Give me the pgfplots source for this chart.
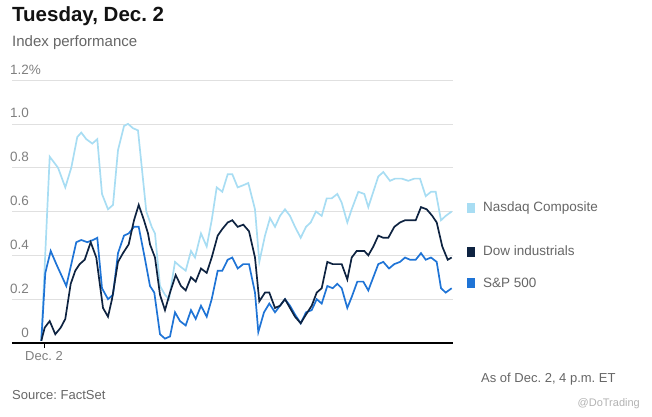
\documentclass[border=0pt]{standalone}
\usepackage{pgfplots}
\pgfplotsset{compat=1.18}
\usepackage{fontspec}
\setmainfont{Liberation Sans}
\frenchspacing
\definecolor{nasdaq}{HTML}{A8DDF3}
\definecolor{dow}{HTML}{0E2341}
\definecolor{spx}{HTML}{1F74D6}
\definecolor{txtgray}{HTML}{666666}
\definecolor{tickgray}{HTML}{808080}
\begin{document}
\begin{tikzpicture}[x=1pt,y=1pt]
\useasboundingbox (0,0) rectangle (652,416);
\begin{axis}[
    at={(12pt,73pt)}, anchor=origin,
    scale only axis, width=441pt, height=263pt,
    xmin=12, xmax=453, ymin=0, ymax=1.2,
    clip=false,
    axis lines*=left,
    y axis line style={draw=none},
    x axis line style={black, line width=1.2pt, -},
    ymajorgrids, grid style={black!12, line width=0.6pt},
    ytick={0,0.2,0.4,0.6,0.8,1.0,1.2},
    yticklabels={0,0.2,0.4,0.6,0.8,1.0,1.2\rlap{\%}},
    ytick style={draw=none},
    yticklabel style={anchor=base east, xshift=22pt, yshift=6pt, inner sep=0pt,
        text=tickgray, font=\fontsize{13.5}{16}\selectfont},
    xtick={44}, xticklabels={Dec. 2},
    tick align=outside, major tick length=5pt,
    xtick style={black, line width=0.8pt},
    xticklabel style={text=tickgray, font=\fontsize{13}{15}\selectfont},
]
% Nasdaq Composite
\addplot[nasdaq, line width=1.7pt] coordinates {
(41.3,0.01)(49.7,0.85)(58,0.80)(65.3,0.71)(71.3,0.80)(77.3,0.94)(81.3,0.96)(86.3,0.93)
(92.3,0.91)(97.3,0.93)(102,0.68)(108,0.61)(113,0.63)(118,0.88)(124,0.99)(128,1.00)
(133,0.98)(138,0.97)(146.3,0.60)(151.7,0.53)(155,0.50)(160,0.26)(165,0.22)(169,0.20)
(175,0.37)(180,0.35)(185.7,0.33)(191,0.42)(195,0.39)(201,0.50)(206.7,0.44)(211.7,0.56)
(216.7,0.71)(222.3,0.69)(227.7,0.77)(232.3,0.77)(237.7,0.71)(243.3,0.72)(248.3,0.73)
(255,0.61)(259.3,0.37)(265,0.49)(270,0.57)(275,0.53)(280,0.58)(285,0.61)(290,0.58)
(295,0.53)(300.7,0.48)(306,0.53)(310.7,0.55)(316,0.60)(321.7,0.58)(326.7,0.66)
(331.7,0.66)(337.3,0.68)(341.7,0.64)(347.3,0.55)(351.7,0.61)(358.3,0.69)(364.3,0.68)
(368.3,0.62)(373.3,0.69)(378.3,0.76)(383.3,0.78)(390,0.74)(395,0.75)(401.7,0.75)
(408.3,0.74)(414.3,0.75)(420,0.75)(425.7,0.67)(431,0.69)(435.7,0.69)(441,0.56)
(445.7,0.58)(451.7,0.60)};
% S&P 500
\addplot[spx, line width=1.7pt] coordinates {
(41.3,0.01)(45.3,0.32)(50.7,0.42)(56.3,0.36)(61.3,0.31)(66.3,0.26)(71.3,0.36)(76.3,0.46)
(81.3,0.47)(87.3,0.46)(93,0.47)(97.3,0.48)(102,0.25)(108,0.20)(113,0.22)(118,0.41)
(124,0.49)(128.7,0.50)(134,0.53)(138.7,0.53)(144.7,0.39)(150,0.26)(154.3,0.23)(160,0.04)
(165,0.02)(170,0.03)(175,0.14)(180,0.10)(185.7,0.08)(191,0.15)(195.7,0.11)(201,0.17)
(206.7,0.12)(211.7,0.20)(217.7,0.33)(222.3,0.33)(227.7,0.38)(232.3,0.39)(237.7,0.34)
(243.3,0.36)(249,0.36)(255,0.23)(258.3,0.05)(264,0.14)(269.3,0.18)(275,0.14)(280,0.17)
(285,0.20)(290,0.17)(295,0.13)(300.7,0.09)(306,0.14)(311.7,0.15)(316.7,0.20)(321.7,0.18)
(327.3,0.26)(332.7,0.25)(337.3,0.27)(341.7,0.25)(347.3,0.16)(351.7,0.21)(357.3,0.28)
(363.3,0.28)(368.3,0.24)(373.3,0.30)(378.3,0.36)(383.3,0.37)(389,0.34)(394.3,0.36)
(400,0.37)(405,0.39)(410,0.38)(415.7,0.38)(421,0.41)(425.7,0.38)(431,0.39)(436.7,0.37)
(441,0.25)(445.7,0.23)(451.7,0.25)};
% Dow industrials
\addplot[dow, line width=1.7pt] coordinates {
(41.3,0.01)(44.7,0.07)(49.7,0.10)(55.3,0.04)(60.7,0.07)(65.3,0.11)(70.7,0.27)(75.3,0.33)
(79.7,0.36)(84.7,0.38)(90.7,0.46)(96.3,0.39)(103,0.16)(108,0.12)(112,0.20)(118,0.37)
(123,0.41)(128.7,0.45)(134,0.56)(138.7,0.63)(144,0.56)(148,0.50)(150,0.45)(155,0.39)
(160,0.22)(165,0.15)(170,0.23)(175.7,0.31)(181,0.26)(185.7,0.24)(191,0.30)(195.7,0.28)
(201,0.34)(206.7,0.32)(211.7,0.39)(217.7,0.49)(222.3,0.52)(227.7,0.55)(232.3,0.56)
(237.7,0.53)(243.3,0.54)(249,0.51)(255,0.39)(259.3,0.19)(265,0.23)(269.3,0.23)(275,0.16)
(280,0.17)(285,0.20)(290,0.16)(295,0.12)(300.7,0.09)(306,0.13)(311.7,0.17)(316.7,0.23)
(321.7,0.25)(327.3,0.37)(332.7,0.36)(337.3,0.36)(341.7,0.36)(347.3,0.29)(351.7,0.39)
(356.7,0.42)(364.3,0.42)(368.3,0.40)(373.3,0.44)(378.3,0.49)(383.3,0.48)(388.3,0.48)
(394.3,0.53)(400,0.55)(405,0.56)(410,0.56)(415.7,0.56)(421,0.62)(426.7,0.61)(432.3,0.58)
(436.7,0.55)(442.3,0.44)(447.7,0.38)(451.7,0.39)};
\end{axis}
% titles
\node[anchor=base west, inner sep=0, text=black!93, font=\fontsize{20.5}{24}\selectfont\bfseries] at (12,394) {Tuesday, Dec. 2};
\node[anchor=base west, inner sep=0, text=txtgray, font=\fontsize{15}{18}\selectfont] at (12,370) {Index performance};
% legend
\fill[nasdaq] (467,203) rectangle (475,213);
\fill[dow] (467,159) rectangle (475,169);
\fill[spx] (467,128) rectangle (475,138);
\begin{scope}[every node/.style={anchor=west, inner sep=0, text=txtgray, font=\fontsize{13.5}{16}\selectfont}]
\node at (483,208) {Nasdaq Composite};
\node at (483,165) {Dow industrials};
\node at (483,133) {S\&P 500};
\end{scope}
% footer
\node[anchor=base west, inner sep=0, text=txtgray, font=\fontsize{13}{15}\selectfont] at (12,17) {Source: FactSet};
\node[anchor=base west, inner sep=0, text=txtgray, font=\fontsize{13}{15}\selectfont] at (481,34) {As of Dec. 2, 4 p.m. ET};
\node[anchor=base east, inner sep=0, text=black!30, font=\fontsize{11}{13}\selectfont] at (640,10) {@DoTrading};
\end{tikzpicture}
\end{document}
